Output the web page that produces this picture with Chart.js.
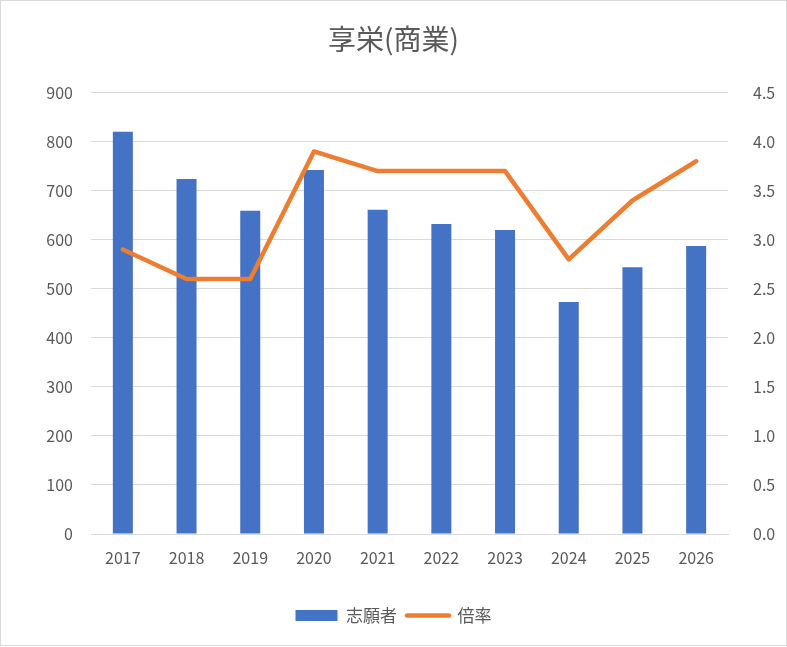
<!DOCTYPE html>
<html>
<head>
<meta charset="utf-8">
<script src="https://cdn.jsdelivr.net/npm/chart.js@4/dist/chart.umd.min.js"></script>
<style>
  html, body { margin: 0; padding: 0; background: #ffffff; }
  #wrap { position: relative; width: 787px; height: 647px; }
  #frame { position: absolute; left: 0; top: 0; width: 787px; height: 646px; box-sizing: border-box; border: 1px solid #d9d9d9; pointer-events: none; }
</style>
</head>
<body>
<div id="wrap">
  <canvas id="c" width="787" height="647"></canvas>
  <div id="frame"></div>
</div>
<script>
const chartTitle = '享栄(商業)';
const categories = ['2017', '2018', '2019', '2020', '2021', '2022', '2023', '2024', '2025', '2026'];
const applicants = [820, 724, 659, 742, 661, 632, 620, 473, 544, 587];
const ratio = [2.9, 2.6, 2.6, 3.9, 3.7, 3.7, 3.7, 2.8, 3.4, 3.8];
const seriesNames = ['志願者', '倍率'];
const leftTicks = { min: 0, max: 900, step: 100 };
const rightTicks = { min: 0, max: 4.5, step: 0.5 };

const FONT = '"Noto Sans CJK JP", "Noto Sans", sans-serif';
const TXT = '#595959';
const BLUE = '#4472C4';
const ORANGE = '#ED7D31';
const GRID = '#d9d9d9';

new Chart(document.getElementById('c'), {
  data: {
    labels: categories,
    datasets: [
      {
        type: 'bar', label: seriesNames[0], data: applicants, yAxisID: 'y',
        backgroundColor: BLUE, borderWidth: 0, order: 2,
        barPercentage: 1.0, categoryPercentage: 0.314
      },
      {
        type: 'line', label: seriesNames[1], data: ratio, yAxisID: 'y1',
        borderColor: ORANGE, backgroundColor: ORANGE, borderWidth: 4.5,
        pointRadius: 0, borderCapStyle: 'round', borderJoinStyle: 'round',
        tension: 0, order: 1
      }
    ]
  },
  options: {
    responsive: false,
    animation: false,
    devicePixelRatio: 1,
    layout: { padding: { left: 0, right: 0, top: 0, bottom: 13 } },
    plugins: {
      tooltip: { enabled: false },
      title: {
        display: true, text: chartTitle, color: TXT,
        font: { family: FONT, size: 28, weight: 'normal' },
        padding: { top: 23, bottom: 36 }
      },
      legend: {
        position: 'bottom',
        labels: {
          usePointStyle: true, pointStyleWidth: 42, boxHeight: 11,
          color: TXT, font: { family: FONT, size: 17 }, padding: 10,
          generateLabels: (chart) => [
            { text: seriesNames[0], pointStyle: 'rect', fillStyle: BLUE, strokeStyle: BLUE, lineWidth: 0, fontColor: TXT, datasetIndex: 0, hidden: false },
            { text: seriesNames[1], pointStyle: 'line', fillStyle: ORANGE, strokeStyle: ORANGE, lineWidth: 4.5, lineCap: 'round', fontColor: TXT, datasetIndex: 1, hidden: false }
          ]
        }
      }
    },
    scales: {
      x: {
        grid: { display: false },
        border: { display: true, color: GRID, width: 1 },
        ticks: { color: TXT, font: { family: FONT, size: 16 }, padding: 6, maxRotation: 0 },
        afterFit: (s) => { s.height = 63; }
      },
      y: {
        position: 'left', min: leftTicks.min, max: leftTicks.max,
        grid: { color: GRID, lineWidth: 1, drawTicks: false },
        border: { display: false },
        ticks: { stepSize: leftTicks.step, color: TXT, font: { family: FONT, size: 16 }, padding: 18 },
        afterFit: (s) => { s.width = 91; }
      },
      y1: {
        position: 'right', min: rightTicks.min, max: rightTicks.max,
        grid: { display: false, drawOnChartArea: false },
        border: { display: false },
        ticks: { stepSize: rightTicks.step, color: TXT, font: { family: FONT, size: 16 }, padding: 17,
          callback: (v) => Number(v).toFixed(1) },
        afterFit: (s) => { s.width = 59; }
      }
    }
  }
});
</script>
</body>
</html>
